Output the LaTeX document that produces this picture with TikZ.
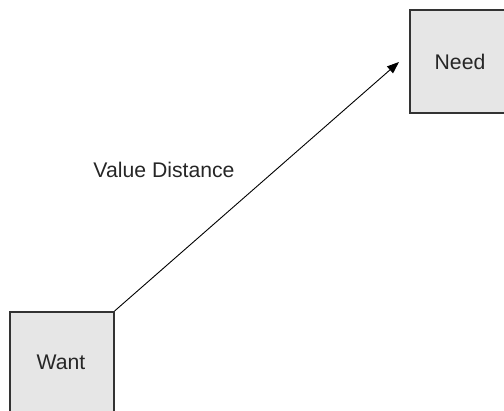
\documentclass[tikz,border=0pt]{standalone}
\usepackage{fontspec}
\setmainfont{Liberation Sans}
\usetikzlibrary{arrows.meta}
\definecolor{boxfill}{HTML}{E6E6E6}
\definecolor{boxline}{HTML}{333333}
\begin{document}
\begin{tikzpicture}[x=1pt,y=-1pt,
  conceptbox/.style={draw=boxline,fill=boxfill,line width=1.6pt,minimum width=104pt,minimum height=103pt,inner sep=0pt},
  lbl/.style={font=\fontsize{21.2}{25}\selectfont,text=black!85}]
\useasboundingbox (0,0) rectangle (504,411);
\begin{scope}
\clip (0,0) rectangle (504,411);
\node[conceptbox,anchor=north west] (need) at (409,9) {};
\node[lbl] (needtxt) at (460,62) {Need};
\node[conceptbox,anchor=north west] (want) at (9,311) {};
\node[lbl] (wanttxt) at (61,362) {Want};
\end{scope}
\coordinate (tip) at (399,62);
\draw[line width=0.9pt,black,-{Triangle[length=12pt,width=9pt]}] (want.north east) -- (tip);
\node[lbl] (vd) at (164,170) {Value Distance};
\end{tikzpicture}
\end{document}
